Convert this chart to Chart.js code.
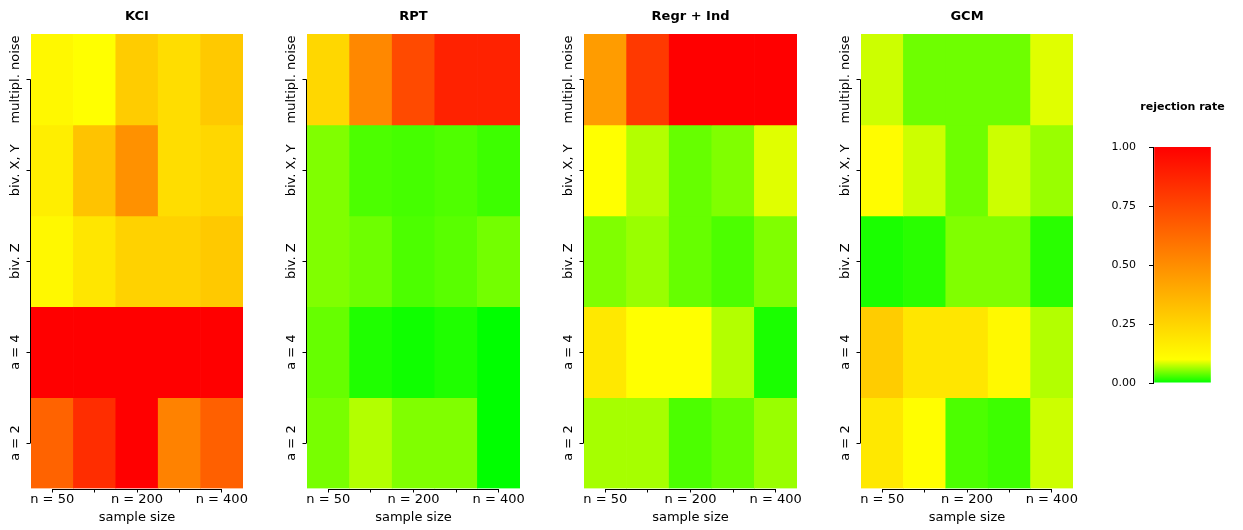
<!DOCTYPE html>
<html lang="en">
<head>
  <meta charset="UTF-8">
  <title>Rejection rates</title>
  <script src="https://cdn.jsdelivr.net/npm/chart.js"></script>
  <style>
    body {
      margin: 0;
      background-color: #fff;
      overflow: hidden;
    }
    .panel {
      position: absolute;
      top: 0;
      height: 530px;
    }
  </style>
</head>
<body>

<div class="panel" style="left:0;width:260px"><canvas id="panel0"></canvas></div>
<div class="panel" style="left:276px;width:260px"><canvas id="panel1"></canvas></div>
<div class="panel" style="left:553px;width:260px"><canvas id="panel2"></canvas></div>
<div class="panel" style="left:830px;width:260px"><canvas id="panel3"></canvas></div>
<div class="panel" style="left:1090px;width:153px"><canvas id="legend"></canvas></div>

<script>
  const sampleSizes = ["n = 50", "n = 100", "n = 200", "n = 300", "n = 400"];
  const settings = ["multipl. noise", "biv. X, Y", "biv. Z", "a = 4", "a = 2"];
  const methods = ["KCI", "RPT", "Regr + Ind", "GCM"];
  const rateTicks = [0, 0.25, 0.5, 0.75, 1];

  // rejection rates, rows = settings (top to bottom), cols = sample sizes
  const kci = [
    [0.125, 0.10, 0.28, 0.22, 0.29],
    [0.16, 0.31, 0.49, 0.22, 0.24],
    [0.125, 0.19, 0.26, 0.26, 0.29],
    [1.00, 1.00, 1.00, 1.00, 1.00],
    [0.65, 0.84, 1.00, 0.54, 0.66]
  ];
  const rpt = [
    [0.24, 0.52, 0.74, 0.88, 0.88],
    [0.05, 0.03, 0.027, 0.031, 0.024],
    [0.05, 0.043, 0.03, 0.035, 0.045],
    [0.04, 0.012, 0.006, 0.012, 0.0],
    [0.047, 0.07, 0.05, 0.05, 0.0]
  ];
  const regrInd = [
    [0.45, 0.80, 1.00, 1.00, 1.00],
    [0.10, 0.07, 0.04, 0.05, 0.088],
    [0.05, 0.06, 0.04, 0.03, 0.05],
    [0.18, 0.10, 0.10, 0.07, 0.01],
    [0.065, 0.065, 0.03, 0.04, 0.06]
  ];
  const gcm = [
    [0.08, 0.043, 0.043, 0.043, 0.088],
    [0.11, 0.08, 0.043, 0.08, 0.06],
    [0.01, 0.016, 0.05, 0.05, 0.016],
    [0.28, 0.19, 0.19, 0.12, 0.07],
    [0.18, 0.105, 0.03, 0.024, 0.08]
  ];
  const rates = [kci, rpt, regrInd, gcm];

  const FONT = '"DejaVu Sans", sans-serif';
  Chart.defaults.font.family = FONT;
  Chart.defaults.color = "#000";

  // green -> yellow (0.1) -> red (1)
  function rateColor(v) {
    if (v < 0.1) {
      return `rgb(${Math.round(255 * v / 0.1)},255,0)`;
    }
    return `rgb(255,${Math.round(255 * (1 - v) / 0.9)},0)`;
  }

  // R-style axes: lines only between first and last tick, rotated row labels
  const rAxes = {
    id: "rAxes",
    afterDraw(chart) {
      const { ctx, chartArea: area, scales: { x, y } } = chart;
      const n = settings.length;
      ctx.save();
      ctx.strokeStyle = "#000";
      ctx.lineWidth = 1;
      ctx.beginPath();
      const by = Math.round(area.bottom) + 0.5;
      ctx.moveTo(x.getPixelForTick(0), by);
      ctx.lineTo(x.getPixelForTick(sampleSizes.length - 1), by);
      const lx = Math.round(area.left) - 0.5;
      ctx.moveTo(lx, y.getPixelForValue(n - 0.5));
      ctx.lineTo(lx, y.getPixelForValue(0.5));
      settings.forEach((s, i) => {
        const py = Math.round(y.getPixelForValue(n - i - 0.5)) + 0.5;
        ctx.moveTo(lx, py);
        ctx.lineTo(lx - 4, py);
      });
      ctx.stroke();

      ctx.fillStyle = "#000";
      ctx.font = `13px ${FONT}`;
      ctx.textAlign = "center";
      ctx.textBaseline = "middle";
      settings.forEach((s, i) => {
        ctx.save();
        ctx.translate(area.left - 15, y.getPixelForValue(n - i - 0.5));
        ctx.rotate(-Math.PI / 2);
        ctx.fillText(s, 0, 0);
        ctx.restore();
      });
      ctx.restore();
    }
  };

  const plotWidths = [212, 213, 213, 212];

  methods.forEach((name, m) => {
    const n = settings.length;
    const datasets = settings.map((s, i) => ({
      label: s,
      data: sampleSizes.map(() => [n - i - 1, n - i]),
      backgroundColor: rates[m][i].map(rateColor),
      borderWidth: 0
    }));

    new Chart(document.getElementById("panel" + m), {
      type: "bar",
      data: { labels: sampleSizes, datasets },
      plugins: [rAxes],
      options: {
        responsive: true,
        maintainAspectRatio: false,
        animation: false,
        layout: { padding: { left: 31, right: 260 - 31 - plotWidths[m], top: 0, bottom: 6 } },
        datasets: { bar: { grouped: false, categoryPercentage: 1, barPercentage: 1 } },
        plugins: {
          legend: { display: false },
          tooltip: { enabled: false },
          title: {
            display: true,
            text: name,
            color: "#000",
            font: { size: 13, weight: "bold", lineHeight: 1 },
            padding: { top: 10.5, bottom: 10.5 }
          }
        },
        scales: {
          x: {
            offset: true,
            border: { display: false },
            grid: { offset: false, drawOnChartArea: false, drawTicks: true, tickLength: 4, color: "#000" },
            ticks: {
              autoSkip: false,
              maxRotation: 0,
              padding: 0.5,
              color: "#000",
              font: { size: 13, lineHeight: 1 },
              callback: (v, i) => (i % 2 === 0 ? sampleSizes[i] : "")
            },
            title: {
              display: true,
              text: "sample size",
              color: "#000",
              font: { size: 13, lineHeight: 1 },
              padding: { top: 4.5, bottom: 0 }
            }
          },
          y: { display: false, min: 0, max: n }
        }
      }
    });
  });

  // colour key
  function gradientFill(context) {
    const chart = context.chart;
    if (!chart.chartArea) return rateColor(1);
    const y = chart.scales.y;
    const g = chart.ctx.createLinearGradient(0, y.getPixelForValue(0), 0, y.getPixelForValue(1));
    [0, 0.1, 1].forEach(v => g.addColorStop(v, rateColor(v)));
    return g;
  }

  // key title centred over the colour bar (Chart.js title would squeeze it)
  const keyTitle = {
    id: "keyTitle",
    afterDraw(chart) {
      const { ctx, chartArea: area } = chart;
      ctx.save();
      ctx.fillStyle = "#000";
      ctx.font = `bold 11px ${FONT}`;
      ctx.textAlign = "center";
      ctx.textBaseline = "middle";
      ctx.fillText("rejection rate", (area.left + area.right) / 2, 107);
      ctx.restore();
    }
  };

  new Chart(document.getElementById("legend"), {
    type: "bar",
    data: {
      labels: ["rate"],
      datasets: [{
        data: [[rateTicks[0], rateTicks[rateTicks.length - 1]]],
        backgroundColor: gradientFill,
        borderWidth: 0
      }]
    },
    plugins: [keyTitle],
    options: {
      responsive: true,
      maintainAspectRatio: false,
      animation: false,
      layout: { padding: { left: 21, right: 31, top: 147, bottom: 147 } },
      datasets: { bar: { categoryPercentage: 1, barPercentage: 0.96 } },
      plugins: {
        legend: { display: false },
        tooltip: { enabled: false }
      },
      scales: {
        x: { display: false },
        y: {
          min: 0,
          max: 1,
          afterBuildTicks: scale => {
            scale.ticks = rateTicks.map(v => ({ value: v }));
          },
          afterFit: scale => {
            scale.width = 42;
          },
          border: { display: true, color: "#000" },
          grid: { drawOnChartArea: false, tickLength: 4, color: "#000" },
          ticks: {
            padding: 13,
            color: "#000",
            font: { size: 11 },
            callback: v => Number(v).toFixed(2)
          }
        }
      }
    }
  });
</script>

</body>
</html>
